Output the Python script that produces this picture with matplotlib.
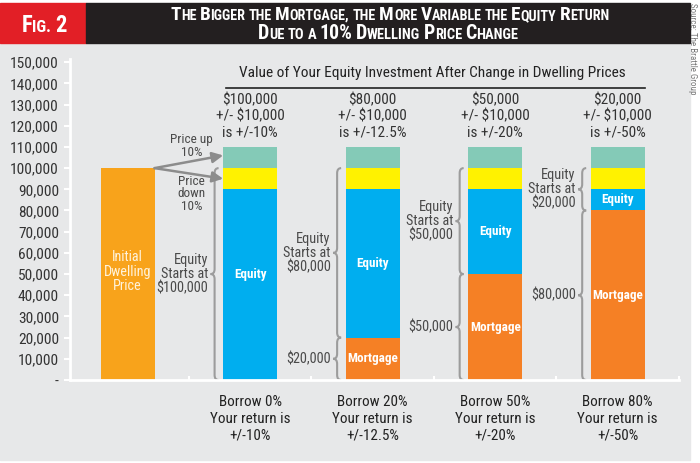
import numpy as np
import matplotlib
matplotlib.use('Agg')
import matplotlib.pyplot as plt
from matplotlib import font_manager
from matplotlib.patches import Rectangle, PathPatch
from matplotlib.path import Path

# ---- data ----
categories = ['Initial Dwelling Price', 'Borrow 0%', 'Borrow 20%', 'Borrow 50%', 'Borrow 80%']
dwelling_price = 100000
price_change = 10000
borrow_pct = [0, 20, 50, 80]
mortgage = [0, 20000, 50000, 80000]
equity_start = [100000, 80000, 50000, 20000]
return_pct = ['10', '12.5', '20', '50']
equity_label_y = [50000, 55000, 70000, 85000]
y_ticks = list(range(0, 150001, 10000))
y_tick_labels = ['-'] + [f'{v:,}' for v in y_ticks[1:]]

title_lines = ['The Bigger the Mortgage, the More Variable the Equity Return',
               'Due to a 10% Dwelling Price Change']
subtitle = 'Value of Your Equity Investment After Change in Dwelling Prices'
source = 'Source: The Brattle Group'

# ---- colours ----
BG = '#E7E8E9'
ORANGE_INIT = '#F8A31B'
ORANGE_MORT = '#F58025'
BLUE = '#00AEEF'
YELLOW = '#FFF200'
TEAL = '#84CAB7'
TXT = '#333333'
NOTE = '#4A4A4A'
BRACE = '#9C9C9C'

# narrowest sans available
names = {f.name for f in font_manager.fontManager.ttflist}
narrow = [n for n in ['Liberation Sans Narrow', 'Roboto Condensed', 'Open Sans Condensed',
                      'Noto Sans Condensed', 'DejaVu Sans Condensed'] if n in names]
if narrow:
    plt.rcParams['font.family'] = [narrow[0], 'DejaVu Sans']
else:
    plt.rcParams['font.family'] = ['DejaVu Sans']
    plt.rcParams['font.stretch'] = 'condensed'

W, H = 700, 463
fig = plt.figure(figsize=(7, 4.63), dpi=100, facecolor='white')

# background panels (behind the axes)
fig.patches.append(Rectangle((0, 3 / H), 690 / W, 417 / H, transform=fig.transFigure,
                             color=BG, zorder=-5))
fig.patches.append(Rectangle((0, 420 / H), 86 / W, 40 / H, transform=fig.transFigure,
                             color='#E21F26', zorder=-5))
fig.patches.append(Rectangle((86 / W, 420 / H), 604 / W, 40 / H, transform=fig.transFigure,
                             color='#231F20', zorder=-5))

renderer = fig.canvas.get_renderer()


def _width(s, size, weight='bold'):
    t = fig.text(0, 0, s, fontsize=size, fontweight=weight)
    w = t.get_window_extent(renderer).width
    t.remove()
    return w


def fit(sample, target, weight='normal'):
    """font size that makes sample about target pixels wide"""
    return min(14, max(6.5, 10 * target / _width(sample, 10, weight)))


def small_caps(line, xc, base_px, big, small, target=None):
    """fake small caps: capitalised words get a big first letter, the rest small upper case"""
    runs = []
    for i, word in enumerate(line.split(' ')):
        if i > 0:
            runs.append((' ', small))
        if word[0].isdigit():
            runs.append((word, big))
        elif word[0].isupper():
            runs.append((word[0], big))
            if len(word) > 1:
                runs.append((word[1:].upper(), small))
        else:
            runs.append((word.upper(), small))

    def widths(scale):
        out = []
        for s, sz in runs:
            if s == ' ':
                out.append(_width('A A', sz * scale) - _width('AA', sz * scale))
            else:
                out.append(_width(s, sz * scale))
        return out

    scale = 1.0
    ws = widths(scale)
    if target is not None:
        scale = target / sum(ws)
        ws = widths(scale)
    x = xc - sum(ws) / 2
    for (s, sz), w in zip(runs, ws):
        if s != ' ':
            fig.text(x / W, 1 - base_px / H, s, fontsize=sz * scale, fontweight='bold',
                     color='white', va='baseline', ha='left')
        x += w


small_caps('Fig. 2', 44, 32, 19, 14, target=45)
small_caps(title_lines[0], 390, 20, 15, 11, target=437)
small_caps(title_lines[1], 388, 39, 15, 11, target=261)

fig.text(693 / W, 1 - 3 / H, source, rotation=270, fontsize=6.5, color='#777777',
         ha='center', va='top')

# font sizes matched to the widths in the original (the original face is narrower,
# so the small notes get a little extra height)
fs_tick = fit('150,000', 48)
fs_head = fit('+/- $10,000', 68)
fs_sub = fit(subtitle, 385)
fs_bottom = fit('Your return is', 80)
fs_note = fit('$100,000', 46) * 1.12
fs_price = fit('Price up', 38) * 1.12
fs_init = fit('Dwelling', 40) * 1.2
fs_bar = fit('Mortgage', 48, 'bold') * 1.05

# ---- axes ----
ax = fig.add_axes([70 / W, 83 / H, 609 / W, 321 / H])
ax.patch.set_alpha(0)

x = np.arange(len(categories))
xs = x[1:]
bw = 0.44
blue = [dwelling_price - price_change - m for m in mortgage]
change = [price_change] * len(mortgage)

ax.bar(x[0], dwelling_price, bw, color=ORANGE_INIT)
ax.bar(xs, mortgage, bw, color=ORANGE_MORT)
ax.bar(xs, blue, bw, bottom=mortgage, color=BLUE)
ax.bar(xs, change, bw, bottom=dwelling_price - price_change, color=YELLOW)
ax.bar(xs, change, bw, bottom=dwelling_price, color=TEAL)

ax.set_xlim(-0.47, 4.5)
ax.set_ylim(0, 151500)

for side in ['top', 'right']:
    ax.spines[side].set_visible(False)
for side in ['left', 'bottom']:
    ax.spines[side].set_color('white')
    ax.spines[side].set_linewidth(2)

ax.set_yticks(y_ticks, y_tick_labels)
ax.tick_params(axis='y', colors='white', length=4, width=1.5, labelsize=fs_tick,
               labelcolor=TXT, pad=4)
bottom_labels = [f'Borrow {b}%\nYour return is\n+/-{r}%' for b, r in zip(borrow_pct, return_pct)]
ax.set_xticks(xs, bottom_labels)
ax.tick_params(axis='x', which='major', length=0, labelsize=fs_bottom, labelcolor='#222222', pad=11)
for lab in ax.get_xticklabels():
    lab.set_linespacing(1.22)
ax.set_xticks(x + 0.5, minor=True)
ax.tick_params(axis='x', which='minor', direction='in', length=3, width=1.5, color='white')

# labels inside bars
ax.text(x[0], 51000, 'Initial\nDwelling\nPrice', ha='center', va='center', color='#FFF3DC',
        fontsize=fs_init, linespacing=1.05)
for xi, m, ey in zip(xs, mortgage, equity_label_y):
    ax.text(xi, ey, 'Equity', ha='center', va='center', color='white', fontsize=fs_bar,
            fontweight='bold')
    if m > 0:
        ax.text(xi, m / 2, 'Mortgage', ha='center', va='center', color='white', fontsize=fs_bar,
                fontweight='bold')

# column headers
for xi, e, r in zip(xs, equity_start, return_pct):
    ax.text(xi, 124500, f'${e:,}\n+/- ${price_change:,}\nis +/-{r}%', ha='center', va='center',
            fontsize=fs_head, color=TXT, linespacing=1.2)
ax.text(2.49, 145000, subtitle, ha='center', va='center', fontsize=fs_sub, color='#222222')
ax.plot([0.8, 4.22], [138000, 138000], color='#222222', lw=1.2, clip_on=False)

# price change arrows
for ty in [dwelling_price + price_change * 0.6, dwelling_price - price_change * 0.5]:
    ax.annotate('', xy=(x[1] - bw / 2, ty), xytext=(x[0] + bw / 2, dwelling_price),
                arrowprops=dict(arrowstyle='-|>', color='#8C8C8C', lw=1.8,
                                mutation_scale=16, shrinkA=0, shrinkB=0))
ax.text(0.52, 110500, 'Price up\n10%', ha='center', va='center', fontsize=fs_price, color=NOTE,
        linespacing=0.95)
ax.text(0.52, 88000, 'Price\ndown\n10%', ha='center', va='center', fontsize=fs_price, color=NOTE,
        linespacing=0.95)

# curly braces
px_x = 609 / 4.97
px_y = 321 / 151500


def brace(xs_, y0, y1):
    h = 4 / px_x
    r = 5 / px_y
    ym = (y0 + y1) / 2
    verts = [(xs_ + h, y1), (xs_, y1), (xs_, y1 - r),
             (xs_, ym + r),
             (xs_, ym), (xs_ - h, ym),
             (xs_, ym), (xs_, ym - r),
             (xs_, y0 + r),
             (xs_, y0), (xs_ + h, y0)]
    codes = [Path.MOVETO, Path.CURVE3, Path.CURVE3, Path.LINETO,
             Path.CURVE3, Path.CURVE3, Path.CURVE3, Path.CURVE3,
             Path.LINETO, Path.CURVE3, Path.CURVE3]
    ax.add_patch(PathPatch(Path(verts, codes), fill=False, edgecolor=BRACE, lw=1.5))
    return xs_ - h, ym


for xi, m, e in zip(xs, mortgage, equity_start):
    bx = xi - 0.29
    tip_x, tip_y = brace(bx, m, dwelling_price)
    ax.text(tip_x - 0.02, tip_y, f'Equity\nStarts at\n${e:,}', ha='right', va='center',
            fontsize=fs_note, color=NOTE, linespacing=1.0)
    if m > 0:
        tip_x, tip_y = brace(bx, 0, m)
        ax.text(tip_x - 0.02, tip_y, f'${m:,}', ha='right', va='center', fontsize=fs_note,
                color=NOTE)

fig.savefig('out.png', dpi=100, facecolor='white')
